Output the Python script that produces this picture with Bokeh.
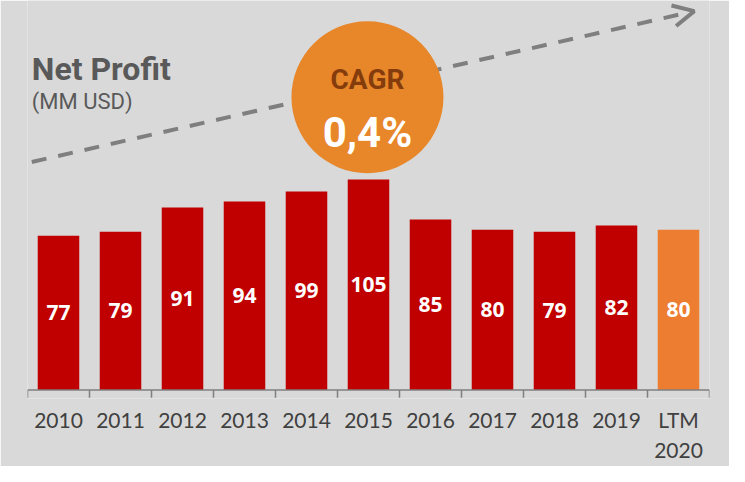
from bokeh.plotting import figure
from bokeh.models import FactorRange, Range1d, Label, Arrow, OpenHead, ColumnDataSource
from bokeh.transform import dodge
from bokeh.core.properties import value
from bokeh.embed import file_html
from bokeh.resources import INLINE

# ---- data ----
categories = ["2010", "2011", "2012", "2013", "2014", "2015", "2016", "2017", "2018", "2019", "LTM\n2020"]
net_profit = [77, 79, 91, 94, 99, 105, 85, 80, 79, 82, 80]
bar_colors = ["#C00000"] * 10 + ["#ED7D31"]
cagr_text = "0,4%"

# ---- layout helpers (reference pixels -> data) ----
W, H = 729, 466
SX, SY = W / 745, H / 482
BORDER_L, BORDER_R, BORDER_B = 27, 20, 68
FRAME_W = W - BORDER_L - BORDER_R
FRAME_H = H - BORDER_B
CAT_W = FRAME_W / len(categories)
BASE = 403 * SY                      # canvas y of the zero line
PX_PER_UNIT = 2.075 * SY
Y0 = -(FRAME_H - BASE) / PX_PER_UNIT
Y1 = Y0 + FRAME_H / PX_PER_UNIT


def ux(X):
    return (X * SX - BORDER_L) / CAT_W


def vy(Y):
    return (BASE - Y * SY) / PX_PER_UNIT


p = figure(width=W, height=H, x_range=FactorRange(*categories, range_padding=0),
           y_range=Range1d(Y0, Y1), y_axis_location=None,
           output_backend="svg", toolbar_location=None,
           min_border_left=BORDER_L, min_border_right=BORDER_R, min_border_top=0,
           min_border_bottom=BORDER_B)
p.background_fill_color = "#D9D9D9"
p.border_fill_color = "#D9D9D9"
p.outline_line_color = None
p.xgrid.grid_line_color = None
p.ygrid.grid_line_color = None

src = ColumnDataSource(dict(cat=categories, val=net_profit, half=[v / 2 for v in net_profit],
                            lbl=[str(v) for v in net_profit], color=bar_colors))

p.vbar(x="cat", top="val", bottom=0, width=0.67, fill_color="color", line_color=None, source=src)
p.text(x="cat", y="half", text="lbl", source=src, text_color="white",
       text_font=value("Open Sans"), text_font_style="bold", text_font_size="21px",
       text_align="center", text_baseline="middle")

# baseline and ticks at category boundaries
TICK = 8 * SY / PX_PER_UNIT
p.segment(x0=0, y0=0, x1=len(categories), y1=0, line_color="#7F7F7F", line_width=1.5)
tick_src = ColumnDataSource(dict(cat=categories))
p.segment(x0=dodge("cat", -0.5, range=p.x_range), y0=0,
          x1=dodge("cat", -0.5, range=p.x_range), y1=-TICK,
          source=tick_src, line_color="#7F7F7F", line_width=1.5)
p.segment(x0=len(categories), y0=0, x1=len(categories), y1=-TICK,
          line_color="#7F7F7F", line_width=1.5)

ax = p.xaxis[0]
ax.axis_line_color = None
ax.major_tick_line_color = None
ax.minor_tick_line_color = None
ax.major_label_text_font = "Lato"
ax.major_label_text_font_size = "21px"
ax.major_label_text_color = "#404040"
ax.major_label_standoff = 2

# dashed trend arrow
arrow = Arrow(x_start=ux(32), y_start=vy(167), x_end=ux(709), y_end=vy(11),
              line_color="#7F7F7F", line_width=4, line_dash="15 12",
              end=OpenHead(line_color="#7F7F7F", line_width=4, size=21), level="underlay")
p.add_layout(arrow)

# CAGR bubble
p.scatter(x=[ux(375)], y=[vy(100)], size=152, marker="circle", fill_color="#E8862A", line_color=None)
p.add_layout(Label(x=ux(375), y=vy(82), text="CAGR", text_align="center", text_baseline="alphabetic",
                   text_font="Roboto", text_font_style="bold", text_font_size="28px",
                   text_color="#843C0C"))
p.add_layout(Label(x=ux(375), y=vy(137), text=cagr_text, text_align="center", text_baseline="alphabetic",
                   text_font="Roboto", text_font_style="bold", text_font_size="42px",
                   text_color="white"))

# title
p.add_layout(Label(x=ux(32), y=vy(71), text="Net Profit", text_baseline="alphabetic",
                   text_font="Roboto", text_font_style="bold", text_font_size="32px",
                   text_color="#595959"))
p.add_layout(Label(x=ux(32), y=vy(104), text="(MM USD)", text_baseline="alphabetic",
                   text_font="Roboto", text_font_size="22px",
                   text_color="#595959"))

open("out.html", "w").write(file_html(p, INLINE))
